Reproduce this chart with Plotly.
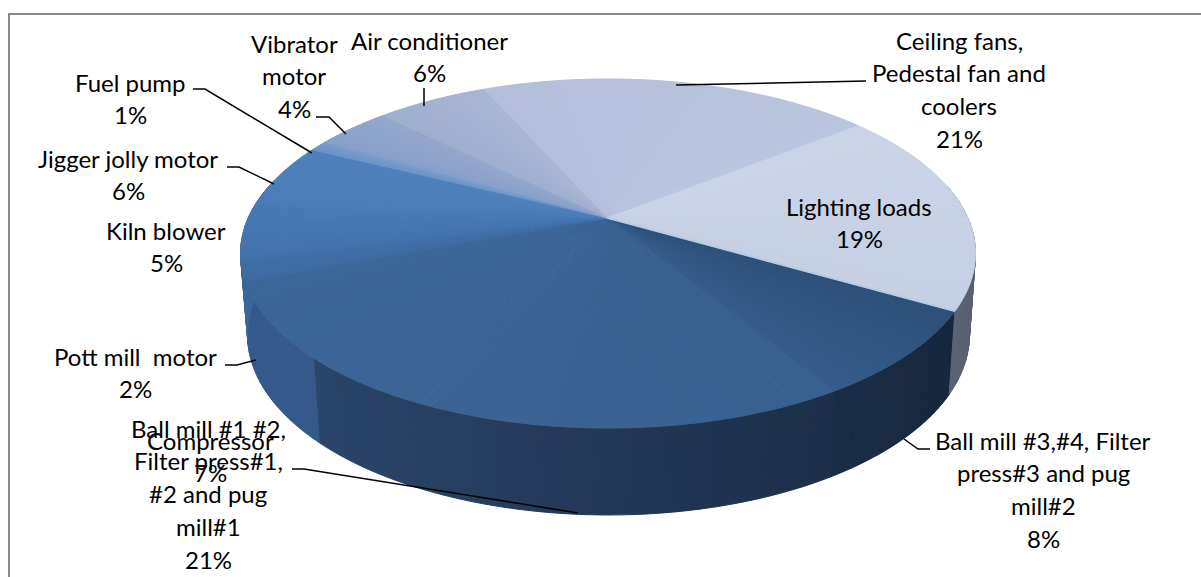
import numpy as np
import plotly.graph_objects as go

# Energy share per load, clockwise from the right-hand edge of the disc
categories = ["Ball mill #3,#4, Filter press#3 and pug mill#2",
              "Ball mill #1 #2, Filter press#1, #2 and pug mill#1",
              "Compressor", "Pott mill  motor", "Kiln blower", "Jigger jolly motor",
              "Fuel pump", "Vibrator motor", "Air conditioner",
              "Ceiling fans, Pedestal fan and coolers", "Lighting loads"]
shares = [8, 21, 7, 2, 5, 6, 1, 4, 6, 21, 19]

# Top-face colours at the start and end of each slice
top_start = ["#2c5079", "#38608f", "#3b6597", "#3e6ba1", "#4273ad", "#4a7db8",
             "#6a94c6", "#86a0cb", "#9fafd0", "#b2bedb", "#cbd4e7"]
top_end = ["#345b8a", "#3d6698", "#3c6799", "#4070a8", "#487ab5", "#4f80bb",
           "#7a9ccb", "#94a6cc", "#a9b5d3", "#bac6de", "#c6d0e4"]
# Side-wall colours, same convention
wall_start = ["#16263b", "#1c2e48", "#34598a", "#35598c", "#3b679c", "#3b679c",
              "#3b679c", "#3b679c", "#3b679c", "#5b6272", "#4d5462"]
wall_end = ["#1b2d46", "#2b466b", "#35598c", "#365c90", "#3b679c", "#3b679c",
            "#3b679c", "#3b679c", "#3b679c", "#5b6272", "#5b6272"]

# Label text, one entry per rendered line, with its anchor on the page
label_lines = [
    (["Ball mill #3,#4, Filter", "press#3 and pug", "mill#2", "8%"], 1043, 440),
    (["Ball mill #1 #2,", "Filter press#1,", "#2 and pug", "mill#1", "21%"], 208, 428),
    (["Compressor", "7%"], 210, 440),
    (["Pott mill  motor", "2%"], 135, 356),
    (["Kiln blower", "5%"], 166, 230),
    (["Jigger jolly motor", "6%"], 128, 158),
    (["Fuel pump", "1%"], 130, 82),
    (["Vibrator", "motor", "4%"], 294, 43),
    (["Air conditioner", "6%"], 429, 40),
    (["Ceiling fans,", "Pedestal fan and", "coolers", "21%"], 959, 40),
    (["Lighting loads", "19%"], 859, 206),
]
LINE_STEP = 32.8

# Leader lines joining labels to their slices
leaders = [
    ([930, 918, 904], [449, 449, 439]),
    ([292, 304, 578], [469, 469, 513]),
    ([225, 237, 256], [365, 365, 360]),
    ([227, 239, 274], [167, 167, 184]),
    ([193, 205, 312], [89, 89, 153]),
    ([316, 329, 346], [117, 117, 134]),
    ([424, 424], [88, 106]),
    ([866, 753, 676], [81, 83, 85]),
]

START_DEG = 120.0
PERSP = 0.2035


def project(theta_deg, x0, y0, ax, by):
    """Perspective view of a point on a circular rim; angle runs clockwise from the back."""
    t = np.radians(theta_deg)
    w = 1 + PERSP * np.cos(t)
    return x0 + ax * np.sin(t) / w, y0 - by * np.cos(t) / w


def top_rim(theta):
    return project(theta, 608.0, 218.0, 359.8, 167.3)


def bottom_rim(theta):
    return project(theta, 608.5, 298.4, 353.4, 172.5)


def mix(c1, c2, f):
    a = [int(c1[i:i + 2], 16) for i in (1, 3, 5)]
    b = [int(c2[i:i + 2], 16) for i in (1, 3, 5)]
    return "#%02x%02x%02x" % tuple(round(p + (q - p) * f) for p, q in zip(a, b))


def polygon(xs, ys, color):
    return go.Scatter(x=list(xs), y=list(ys), mode="lines", fill="toself", fillcolor=color,
                      line=dict(color=color, width=1), hoverinfo="skip", showlegend=False)


edges = START_DEG + np.cumsum([0] + shares) * 3.6
walls, faces = [], []
for i, share in enumerate(shares):
    lo, hi = edges[i], edges[i + 1]
    steps = max(2, int(np.ceil((hi - lo) / 1.5)))
    cuts = np.linspace(lo, hi, steps + 1)
    for k in range(steps):
        f = (k + 0.5) / steps
        arc = np.linspace(cuts[k], cuts[k + 1], 4)
        tx, ty = top_rim(arc)
        faces.append(polygon([608.0, *tx, 608.0], [218.0, *ty, 218.0],
                             mix(top_start[i], top_end[i], f)))
        # Only the near half of the wall can be seen
        if np.cos(np.radians(arc[1])) < 0.2:
            bx, by = bottom_rim(arc)
            walls.append(polygon([*tx, *bx[::-1], tx[0]], [*ty, *by[::-1], ty[0]],
                                 mix(wall_start[i], wall_end[i], f)))

fig = go.Figure(walls + faces)

# Pale highlight along the edge where the lit slice meets the dark one
hx, hy = top_rim(np.array([edges[0]]))
fig.add_trace(go.Scatter(x=[608.0, hx[0]], y=[218.0, hy[0]], mode="lines",
                         line=dict(color="#b6cbe6", width=2), hoverinfo="skip", showlegend=False))

for lx, ly in leaders:
    fig.add_trace(go.Scatter(x=lx, y=ly, mode="lines", line=dict(color="#000000", width=1.5),
                             hoverinfo="skip", showlegend=False))

# Outer frame: only the top and left rules are on the page
fig.add_trace(go.Scatter(x=[9, 9, 1201], y=[577, 14, 14], mode="lines",
                         line=dict(color="#8a8a8a", width=2), hoverinfo="skip", showlegend=False))

for lines, cx, top in label_lines:
    for n, text in enumerate(lines):
        fig.add_annotation(x=cx, y=top + n * LINE_STEP, text=text, showarrow=False,
                           xanchor="center", yanchor="middle",
                           font=dict(family="Lato, sans-serif", size=24, color="#000000"))

fig.update_layout(
    width=1201, height=577, margin=dict(l=0, r=0, t=0, b=0, pad=0),
    paper_bgcolor="#ffffff", plot_bgcolor="#ffffff", showlegend=False,
    xaxis=dict(range=[0, 1201], visible=False, fixedrange=True),
    yaxis=dict(range=[577, 0], visible=False, fixedrange=True),
)
fig.write_html("out.html", config={"displayModeBar": False})
